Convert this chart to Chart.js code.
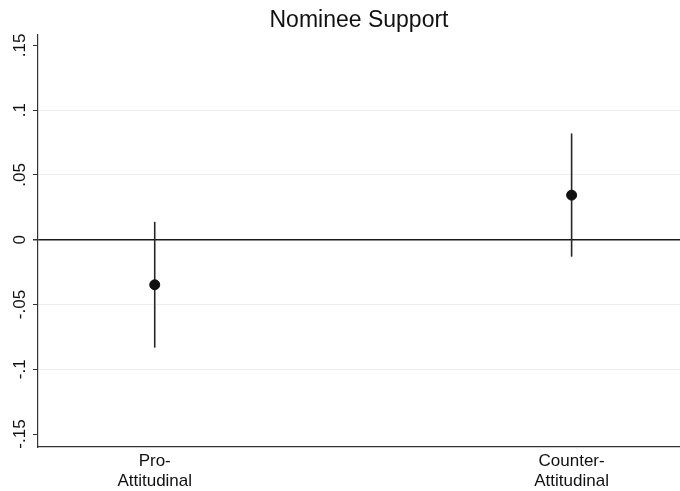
<!DOCTYPE html>
<html>
<head>
<meta charset="utf-8">
<script src="https://cdn.jsdelivr.net/npm/chart.js@4"></script>
<style>
  html, body { margin: 0; padding: 0; background: #fff; }
  #wrap { width: 680px; height: 491px; }
</style>
</head>
<body>
<div id="wrap"><canvas id="myChart" width="680" height="491"></canvas></div>
<script>
// data
const categories = [["Pro-", "Attitudinal"], ["Counter-", "Attitudinal"]];
const positions = [1, 2];
const estimates = [-0.0348, 0.0344];
const ciLow = [-0.0833, -0.0131];
const ciHigh = [0.0138, 0.082];
const yTicks = [-0.15, -0.1, -0.05, 0, 0.05, 0.1, 0.15];

const fontFamily = "'Liberation Sans', Arial, Helvetica, sans-serif";

function fmt(v) {
  if (Math.abs(v) < 1e-9) return "0";
  return v.toFixed(2).replace(/0+$/, "").replace("0.", ".");
}

const ciSets = positions.map((p, i) => ({
  type: "line",
  data: [{ x: p, y: ciLow[i] }, { x: p, y: ciHigh[i] }],
  borderColor: "#262626",
  borderWidth: 1.6,
  pointRadius: 0,
  order: 2,
}));

const ctx = document.getElementById("myChart");
new Chart(ctx, {
  type: "scatter",
  data: {
    datasets: [
      {
        data: positions.map((p, i) => ({ x: p, y: estimates[i] })),
        backgroundColor: "#111",
        borderColor: "#111",
        pointRadius: 5,
        order: 1,
      },
      ...ciSets,
    ],
  },
  options: {
    responsive: false,
    animation: false,
    layout: { padding: 0, autoPadding: false },
    plugins: {
      legend: { display: false },
      tooltip: { enabled: false },
      title: {
        display: true,
        text: "Nominee Support",
        fullSize: false,
        color: "#111",
        font: { family: fontFamily, size: 23, weight: "normal" },
        padding: { top: 6.5, bottom: 0.9 },
      },
    },
    scales: {
      x: {
        type: "linear",
        min: 0.72,
        max: 2.26,
        afterBuildTicks: (scale) => {
          scale.ticks = positions.map((p) => ({ value: p }));
        },
        afterFit: (scale) => {
          scale.height = 44;
          scale.paddingLeft = 0;
          scale.paddingRight = 0;
        },
        grid: { display: false, drawTicks: false },
        border: { display: true, color: "#333", width: 1.2 },
        ticks: {
          padding: 5,
          maxRotation: 0,
          color: "#111",
          font: { family: fontFamily, size: 17, lineHeight: 1.13 },
          callback: (v) => {
            const i = positions.indexOf(v);
            return i >= 0 ? categories[i] : "";
          },
        },
      },
      y: {
        min: -0.16,
        max: 0.158,
        afterBuildTicks: (scale) => {
          scale.ticks = yTicks.map((v) => ({ value: v }));
        },
        afterFit: (scale) => {
          scale.width = 38;
          scale.paddingTop = 0;
          scale.paddingBottom = 0;
        },
        grid: {
          color: (c) => {
            const v = c.tick ? c.tick.value : 1;
            if (Math.abs(v) < 1e-9) return "#1a1a1a";
            if (Math.abs(Math.abs(v) - 0.15) < 1e-9) return "rgba(0,0,0,0)";
            return "#eeeeee";
          },
          lineWidth: (c) => (c.tick && Math.abs(c.tick.value) < 1e-9 ? 1.5 : 1),
          tickColor: "#333",
          tickLength: 5,
        },
        border: { display: true, color: "#333", width: 1.2 },
        ticks: {
          minRotation: 90,
          maxRotation: 90,
          crossAlign: "center",
          padding: -2,
          color: "#111",
          font: { family: fontFamily, size: 17 },
          callback: (v) => fmt(v),
        },
      },
    },
  },
});
</script>
</body>
</html>
